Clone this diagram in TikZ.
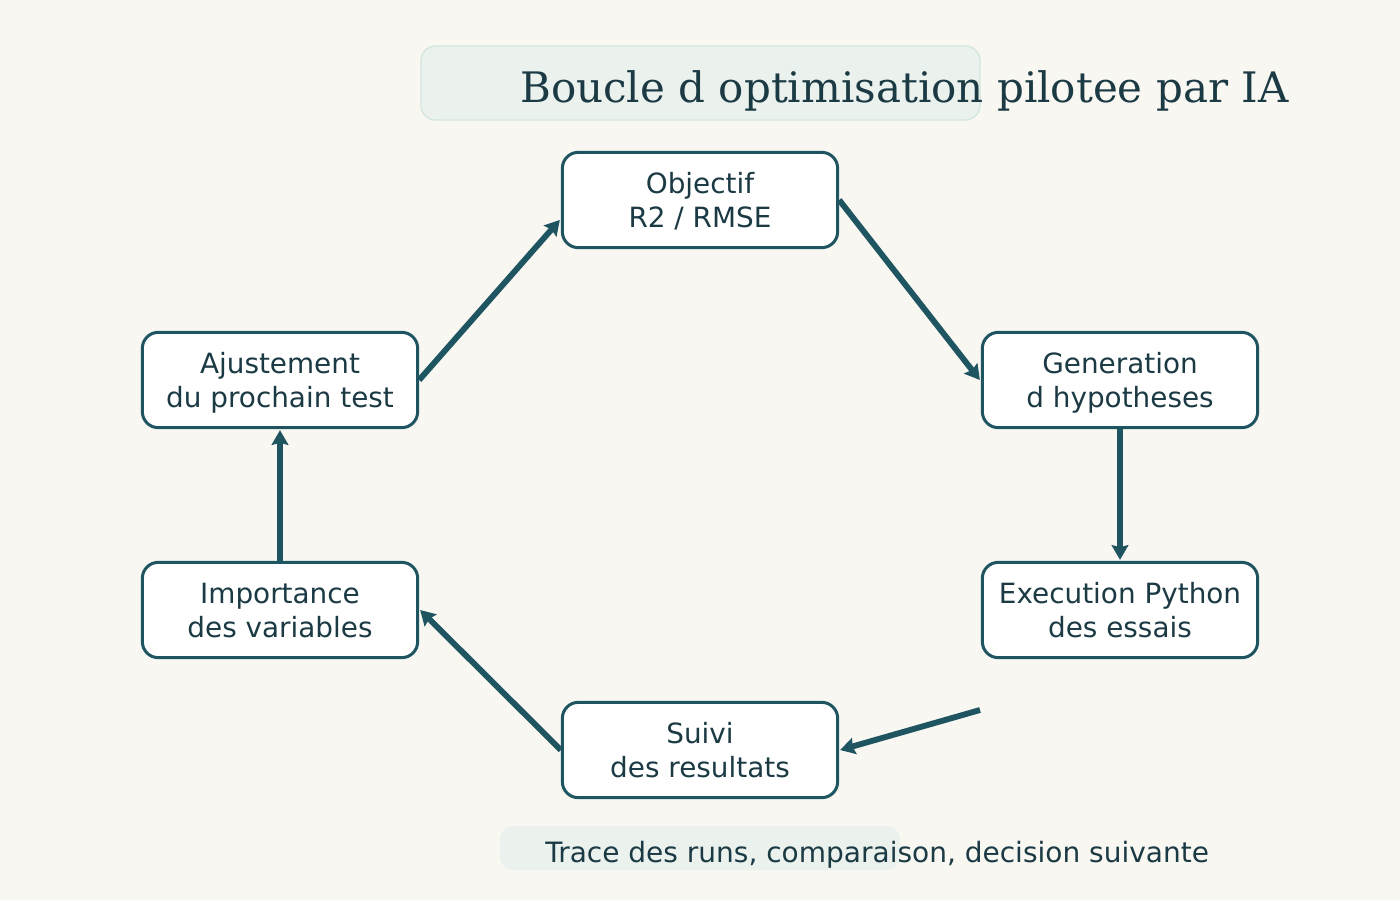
\documentclass[tikz,border=0pt]{standalone}
\usepackage{fontspec}
\setmainfont{DejaVu Sans}
\newfontfamily\titlefont{DejaVu Serif}
\usetikzlibrary{arrows.meta,calc}
\definecolor{bg}{HTML}{F8F7F2}
\definecolor{edge}{HTML}{1F5561}
\definecolor{ink}{HTML}{1B3A44}
\definecolor{panel}{HTML}{EBF2EE}
\definecolor{panelline}{HTML}{D5E6DF}
\tikzset{
  stepbox/.style={draw=edge, line width=2.25pt, fill=white, rounded corners=12pt,
    minimum width=206.5pt, minimum height=71.5pt, align=center, text=ink,
    font=\fontsize{20.9}{25.5}\selectfont, inner sep=0pt,
    text height=46pt, text depth=5pt},
  flow/.style={draw=edge, line width=4.4pt, -{Stealth[length=11pt,width=12.5pt,inset=1.5pt]}},
}
\begin{document}
\begin{tikzpicture}[x=0.75pt,y=-0.75pt]
\useasboundingbox[fill=bg] (0,0) rectangle (1400,900);
% title panel
\draw[fill=panel, draw=panelline, line width=1pt, rounded corners=11pt] (421,46) rectangle (980,120);
\node[anchor=base west, inner sep=0pt, text=ink, font=\titlefont\fontsize{31.5}{36}\selectfont] (title) at (520,102) {Boucle d optimisation pilotee par IA};
% caption panel
\fill[panel, rounded corners=10pt] (500,826) rectangle (900,870);
\node[anchor=base west, inner sep=0pt, text=ink, font=\fontsize{21}{24}\selectfont] (caption) at (545,862) {Trace des runs, comparaison, decision suivante};
% nodes
\node[stepbox] (obj) at (700,200) {Objectif\\R2 / RMSE};
\node[stepbox] (gen) at (1120,380) {Generation\\d hypotheses};
\node[stepbox] (exe) at (1120,610) {Execution Python\\des essais};
\node[stepbox] (sui) at (700,750) {Suivi\\des resultats};
\node[stepbox] (imp) at (280,610) {Importance\\des variables};
\node[stepbox] (aju) at (280,380) {Ajustement\\du prochain test};
\coordinate (free) at (980,710);
% connectors
\draw[flow] (aju.east) -- ($(obj.west)+(-1,20)$);
\draw[flow] (obj.east) -- ($(gen.west)+(-1,0)$);
\draw[flow] (gen.south) -- ($(exe.north)+(0,-1)$);
\draw[flow] (free) -- ($(sui.east)+(1,0)$);
\draw[flow] (sui.west) -- ($(imp.east)+(1,0)$);
\draw[flow] (imp.north) -- ($(aju.south)+(0,1)$);
\end{tikzpicture}
\end{document}
